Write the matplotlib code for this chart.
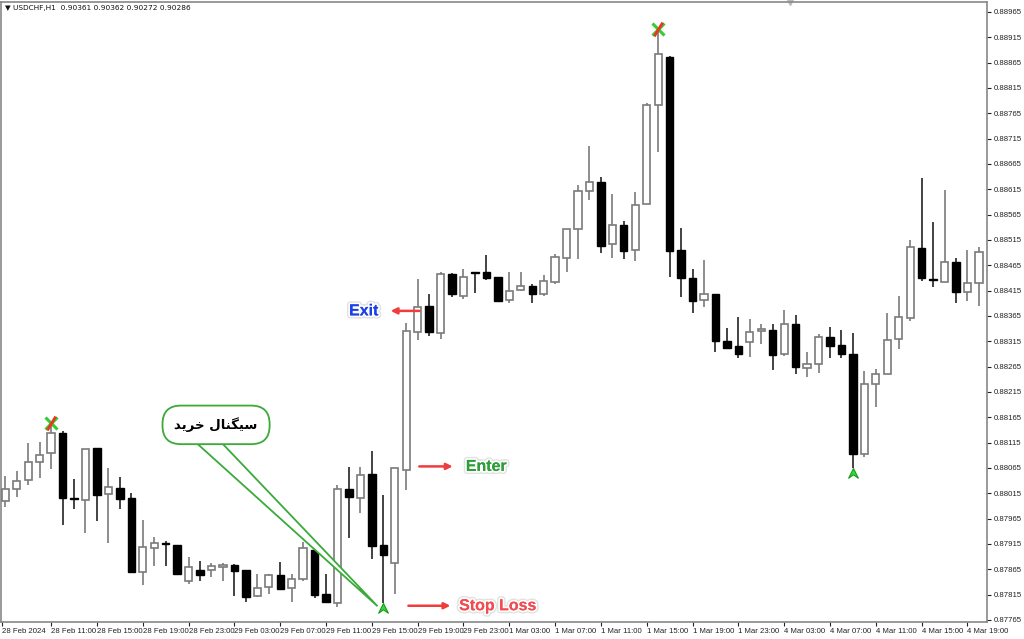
import numpy as np
import pandas as pd
import matplotlib
matplotlib.use("Agg")
import matplotlib.pyplot as plt
import matplotlib.patheffects as pe
from matplotlib.path import Path
from matplotlib.patches import Polygon

# USDCHF H1 candles, 28 Feb 2024 07:00 .. 4 Mar 2024 20:00
opens = [0.88000, 0.88023, 0.88041, 0.88077, 0.88094, 0.88134, 0.88006, 0.88002, 0.88104, 0.88014,
         0.88025, 0.88006, 0.87860, 0.87907, 0.87917, 0.87913, 0.87842, 0.87863, 0.87863, 0.87869,
         0.87873, 0.87863, 0.87812, 0.87830, 0.87854, 0.87828, 0.87846, 0.87903, 0.87816, 0.87798,
         0.88023, 0.88006, 0.88053, 0.87913, 0.87877, 0.88061, 0.88333, 0.88385, 0.88331, 0.88448,
         0.88404, 0.88452, 0.88452, 0.88442, 0.88396, 0.88416, 0.88424, 0.88408, 0.88432, 0.88479,
         0.88537, 0.88612, 0.88629, 0.88507, 0.88545, 0.88495, 0.88586, 0.88781, 0.88876, 0.88495,
         0.88440, 0.88396, 0.88408, 0.88316, 0.88306, 0.88314, 0.88335, 0.88337, 0.88290, 0.88349,
         0.88262, 0.88270, 0.88323, 0.88308, 0.88290, 0.88092, 0.88231, 0.88250, 0.88320, 0.88361,
         0.88499, 0.88438, 0.88432, 0.88471, 0.88412, 0.88430]
highs = [0.88049, 0.88059, 0.88114, 0.88116, 0.88154, 0.88138, 0.88043, 0.88102, 0.88104, 0.88065,
         0.88047, 0.88016, 0.87962, 0.87929, 0.87921, 0.87913, 0.87889, 0.87881, 0.87877, 0.87877,
         0.87875, 0.87863, 0.87856, 0.87856, 0.87879, 0.87856, 0.87919, 0.87903, 0.87856, 0.88031,
         0.88067, 0.88067, 0.88098, 0.88012, 0.88065, 0.88351, 0.88438, 0.88408, 0.88452, 0.88450,
         0.88458, 0.88452, 0.88485, 0.88442, 0.88452, 0.88452, 0.88428, 0.88446, 0.88487, 0.88537,
         0.88623, 0.88700, 0.88639, 0.88606, 0.88552, 0.88610, 0.88785, 0.88931, 0.88878, 0.88539,
         0.88458, 0.88475, 0.88408, 0.88341, 0.88363, 0.88359, 0.88349, 0.88349, 0.88377, 0.88367,
         0.88294, 0.88329, 0.88343, 0.88337, 0.88331, 0.88256, 0.88260, 0.88371, 0.88404, 0.88515,
         0.88637, 0.88550, 0.88614, 0.88479, 0.88495, 0.88501]
lows = [0.87988, 0.88008, 0.88031, 0.88045, 0.88063, 0.87952, 0.87984, 0.87937, 0.87960, 0.87917,
        0.87984, 0.87860, 0.87834, 0.87871, 0.87871, 0.87856, 0.87836, 0.87842, 0.87850, 0.87842,
        0.87812, 0.87800, 0.87810, 0.87816, 0.87826, 0.87800, 0.87842, 0.87808, 0.87798, 0.87790,
        0.87927, 0.87976, 0.87885, 0.87798, 0.87816, 0.88021, 0.88318, 0.88325, 0.88320, 0.88402,
        0.88398, 0.88410, 0.88436, 0.88394, 0.88391, 0.88414, 0.88391, 0.88404, 0.88428, 0.88452,
        0.88477, 0.88594, 0.88489, 0.88479, 0.88477, 0.88473, 0.88586, 0.88689, 0.88442, 0.88402,
        0.88371, 0.88383, 0.88294, 0.88302, 0.88282, 0.88284, 0.88310, 0.88258, 0.88286, 0.88250,
        0.88244, 0.88252, 0.88282, 0.88282, 0.88065, 0.88087, 0.88185, 0.88250, 0.88300, 0.88355,
        0.88434, 0.88422, 0.88432, 0.88391, 0.88394, 0.88385]
closes = [0.88023, 0.88039, 0.88077, 0.88091, 0.88134, 0.88006, 0.88004, 0.88102, 0.88012, 0.88027,
          0.88004, 0.87860, 0.87909, 0.87917, 0.87915, 0.87856, 0.87869, 0.87854, 0.87871, 0.87873,
          0.87861, 0.87810, 0.87828, 0.87854, 0.87826, 0.87846, 0.87907, 0.87814, 0.87800, 0.88023,
          0.88008, 0.88051, 0.87911, 0.87893, 0.88065, 0.88335, 0.88383, 0.88333, 0.88448, 0.88408,
          0.88442, 0.88450, 0.88440, 0.88394, 0.88414, 0.88424, 0.88408, 0.88434, 0.88481, 0.88537,
          0.88612, 0.88629, 0.88503, 0.88545, 0.88493, 0.88584, 0.88781, 0.88882, 0.88493, 0.88440,
          0.88394, 0.88408, 0.88316, 0.88302, 0.88290, 0.88333, 0.88339, 0.88288, 0.88349, 0.88264,
          0.88270, 0.88323, 0.88306, 0.88290, 0.88092, 0.88231, 0.88250, 0.88318, 0.88363, 0.88501,
          0.88440, 0.88436, 0.88471, 0.88412, 0.88430, 0.88491]

sell_bars = [4, 57]
buy_bars = [33, 74]
signal_bar = 33
exit_price = 0.88375
enter_price = 0.88068
stop_price = 0.87793
header = "USDCHF,H1  0.90361 0.90362 0.90272 0.90286"
bubble_text = "\uFEAA\uFBFE\uFEAE\uFEA7 \uFEDD\uFE8E\uFEE8\uFB95\uFBFF\uFEB3"  # سیگنال خرید (shaped, visual order)

# bar times (weekend gap after 1 Mar 23:00)
times = list(pd.date_range("2024-02-28 07:00", "2024-03-01 23:00", freq="h")) + \
        list(pd.date_range("2024-03-04 00:00", "2024-03-04 20:00", freq="h"))

o = np.array(opens); h = np.array(highs); l = np.array(lows); c = np.array(closes)
x = np.arange(len(o))
up = c >= o

fig = plt.figure(figsize=(10.24, 6.39), dpi=100)
ax = fig.add_axes([0.001, 0.0266, 0.9629, 0.9703])

# wicks
ax.vlines(x[up], l[up], h[up], color="#7a7a7a", lw=1.2, zorder=2)
ax.vlines(x[~up], l[~up], h[~up], color="#222222", lw=1.2, zorder=2)
# bodies
w = 0.64
ax.bar(x[up], np.maximum(c[up] - o[up], 0.000008), w, bottom=o[up],
       facecolor="white", edgecolor="#7a7a7a", linewidth=1.2, zorder=3)
ax.bar(x[~up], np.maximum(o[~up] - c[~up], 0.000008), w, bottom=c[~up],
       facecolor="black", edgecolor="black", linewidth=1.0, zorder=3)

# signal arrows
buy_marker = Path([(0, 0), (0.5, -1.0), (0, -0.65), (-0.5, -1.0), (0, 0)],
                  [Path.MOVETO, Path.LINETO, Path.LINETO, Path.LINETO, Path.CLOSEPOLY])
ax.plot(x[buy_bars], l[buy_bars], ls="none", marker=buy_marker, ms=14,
        mfc="#33dd33", mec="#1a9a1a", mew=0.8, zorder=5)
slash = Path([(-0.3, -0.5), (0.3, 0.5)], [Path.MOVETO, Path.LINETO])
ax.plot(x[sell_bars], h[sell_bars], ls="none", marker="x", ms=8, mec="#33cc33", mew=2.2, zorder=5)
ax.plot(x[sell_bars], h[sell_bars], ls="none", marker=slash, ms=10, mec="#ee3322", mew=2.0, zorder=6)

# axes range and ticks
ax.set_xlim(-0.375, 85.71)
ax.set_ylim(0.877609, 0.889847)
yt = np.arange(0.87765, 0.88966, 0.0005)
ax.yaxis.tick_right()
ax.set_yticks(yt)
ax.set_yticklabels([f"{v:.5f}" for v in yt], family="Liberation Sans", fontsize=5.6)
tick_idx = [i for i, t in enumerate(times) if t.hour % 4 == 3 and i > 0]
ax.set_xticks([-0.3] + tick_idx)
ax.set_xticklabels(["28 Feb 2024"] + [f"{times[i].day} {times[i]:%b %H:%M}" for i in tick_idx],
                   family="Liberation Sans", fontsize=5.6)
for lab in ax.get_xticklabels():
    lab.set_horizontalalignment("left")
ax.tick_params(axis="x", length=3, pad=1.5, colors="#222222", width=0.8)
ax.tick_params(axis="y", length=3, pad=1.5, colors="#222222", width=0.8)
for s in ax.spines.values():
    s.set_color("#888888")
    s.set_linewidth(1.2)

# header + chart shift marker
fig.text(0.005, 0.987, "\u25BC " + header, fontsize=5.3, va="center", ha="left", color="#111111")
ax.plot([0.80], [1.0], marker="v", ms=5, color="#bbbbbb", transform=ax.transAxes, clip_on=False)

# buy-signal bubble and its tail
tip = (signal_bar - 0.5, l[signal_bar] - 0.00006)
tail = Polygon([(16.8, 0.88112), tip, (19.0, 0.88112)], closed=False,
               facecolor="white", edgecolor="#3aaa3a", lw=1.3, zorder=7)
ax.add_patch(tail)
ax.text(18.4, 0.88150, bubble_text, family=["DejaVu Sans"], fontweight="bold", fontsize=9.5,
        ha="center", va="center", zorder=8,
        bbox=dict(boxstyle="round,pad=0.9,rounding_size=1.4", fc="white", ec="#3aaa3a", lw=1.3))

# trade levels
fx = [pe.withStroke(linewidth=4.5, foreground="#e2e2e2"), pe.withStroke(linewidth=2.5, foreground="white"), pe.Normal()]
arrow = dict(arrowstyle="-|>", color="#f03c3c", lw=1.8, mutation_scale=9)
ax.annotate("", xy=(33.4, exit_price), xytext=(36.4, exit_price), arrowprops=arrow, zorder=8)
ax.text(31.3, exit_price, "Exit", color="#1b3fe8", family="Liberation Sans", fontweight="bold",
        fontsize=11.5, ha="center", va="center", path_effects=fx, zorder=9)
ax.annotate("", xy=(39.3, enter_price), xytext=(35.9, enter_price), arrowprops=arrow, zorder=8)
ax.text(42.0, enter_price, "Enter", color="#2c9e3a", family="Liberation Sans", fontweight="bold",
        fontsize=11.5, ha="center", va="center", path_effects=fx, zorder=9)
ax.annotate("", xy=(39.1, stop_price), xytext=(34.95, stop_price), arrowprops=arrow, zorder=8)
ax.text(43.0, stop_price, "Stop Loss", color="#f24b50", family="Liberation Sans", fontweight="bold",
        fontsize=11.5, ha="center", va="center", path_effects=fx, zorder=9)

fig.savefig("out.png", dpi=100, facecolor="white")
